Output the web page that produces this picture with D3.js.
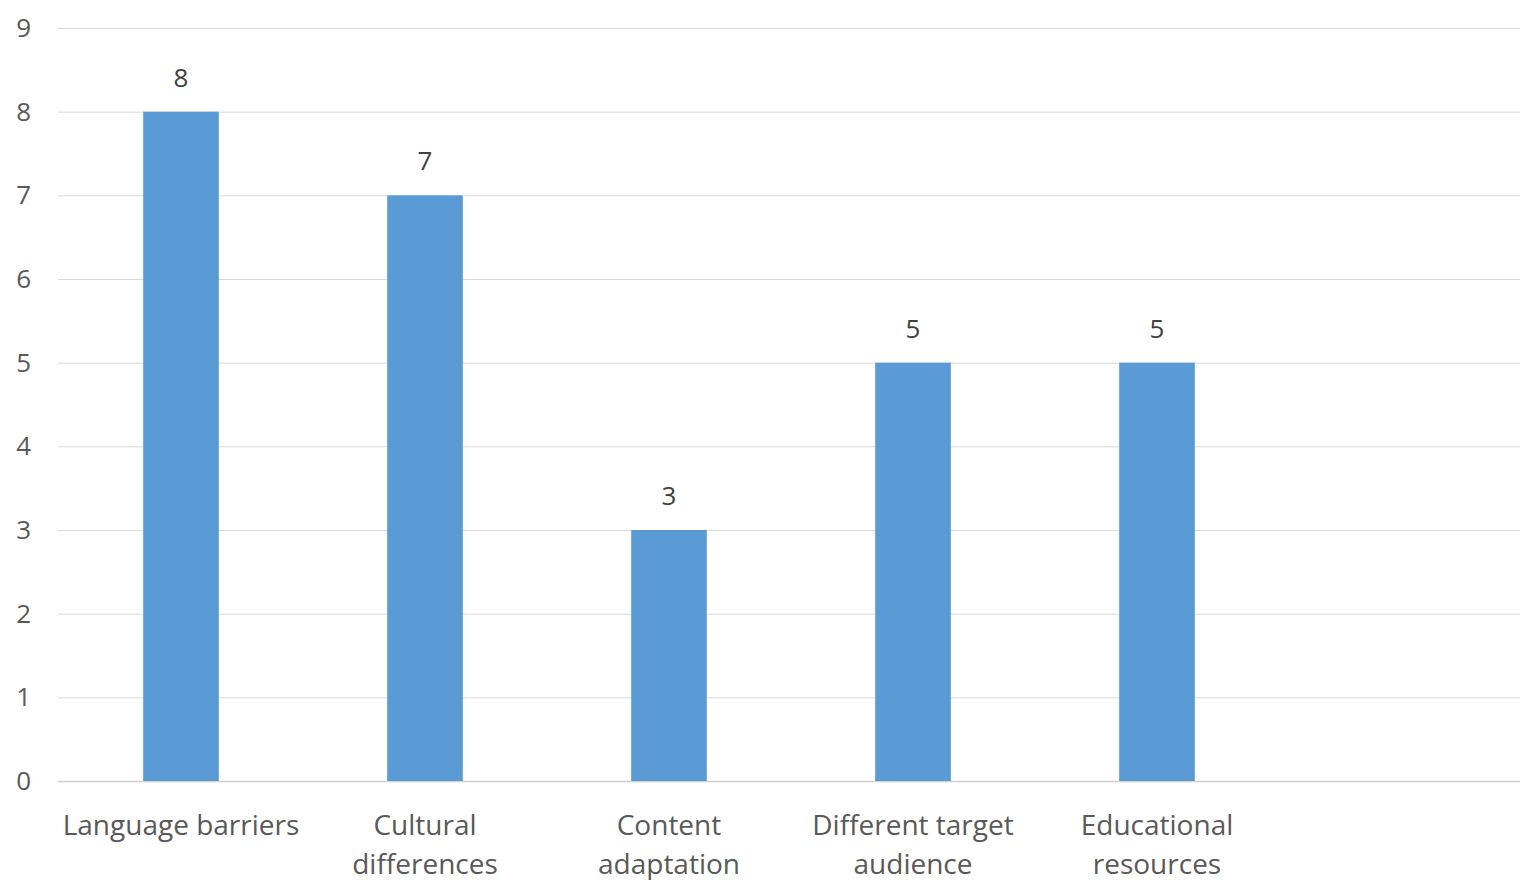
<!DOCTYPE html>
<html><head><meta charset="utf-8">
<script src="https://cdn.jsdelivr.net/npm/d3@7"></script>
<style>html,body{margin:0;padding:0;background:#fff;overflow:hidden}</style>
</head><body>
<svg id="c" width="1522" height="880"></svg>
<script>
const categories = [["Language barriers"],["Cultural","differences"],["Content","adaptation"],["Different target","audience"],["Educational","resources"],[""]];
const values = [8,7,3,5,5,null];
const yTicks = [0,1,2,3,4,5,6,7,8,9];

(function(){
const plotLeft=59, plotRight=1523, plotTop=28, plotBottom=781;
const svg=d3.select("#c");
const font="'Open Sans', sans-serif";
const x=d3.scaleBand().domain(d3.range(categories.length)).range([plotLeft,plotRight]).paddingInner(0.69).paddingOuter(0.345);
const y=d3.scaleLinear().domain([0,9]).range([plotBottom,plotTop]);

svg.append("g").selectAll("line").data(yTicks).join("line")
 .attr("x1",plotLeft-1).attr("x2",plotRight-3).attr("y1",d=>y(d)+0.5).attr("y2",d=>y(d)+0.5)
 .attr("stroke",d=>d===0?"#d0d0d0":"#d9d9d9").attr("stroke-width",d=>d===0?1.5:1);

svg.append("g").selectAll("text").data(yTicks).join("text")
 .attr("x",31).attr("y",d=>y(d)).attr("dy","0.35em").attr("text-anchor","end")
 .attr("font-family",font).attr("font-size",26).attr("fill","#595959").text(d=>d);

const data=values.map((v,i)=>({i,v})).filter(d=>d.v!=null);
svg.append("g").selectAll("rect").data(data).join("rect")
 .attr("x",d=>x(d.i)).attr("width",x.bandwidth()).attr("y",d=>y(d.v)).attr("height",d=>y(0)-y(d.v))
 .attr("fill","#5b9bd5");

svg.append("g").selectAll("text").data(data).join("text")
 .attr("x",d=>x(d.i)+x.bandwidth()/2).attr("y",d=>y(d.v)-25).attr("text-anchor","middle")
 .attr("font-family",font).attr("font-size",26).attr("fill","#404040").text(d=>d.v);

const cl=svg.append("g").selectAll("text").data(categories).join("text")
 .attr("x",(d,i)=>x(i)+x.bandwidth()/2).attr("y",835).attr("text-anchor","middle")
 .attr("font-family",font).attr("font-size",28).attr("fill","#595959");
cl.selectAll("tspan").data(d=>d).join("tspan")
 .attr("x",function(){return this.parentNode.getAttribute("x");})
 .attr("dy",(d,i)=>i===0?0:39).text(d=>d);
})();
</script>
</body></html>
